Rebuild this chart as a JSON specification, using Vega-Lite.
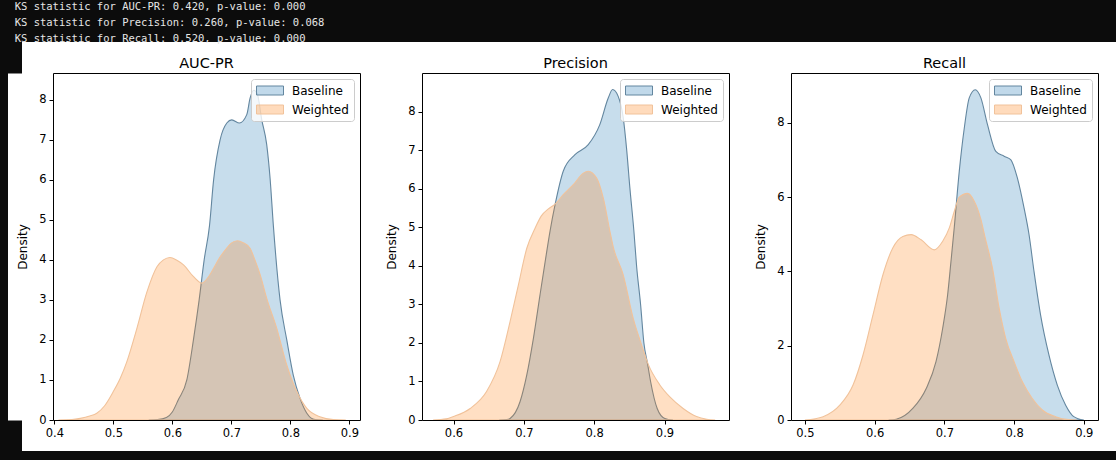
{
  "$schema": "https://vega.github.io/schema/vega-lite/v6.json",
  "background": "#0c0c0c",
  "padding": {"left": -15, "top": 2, "right": 0, "bottom": 0},
  "title": {
    "text": ["KS statistic for AUC-PR: 0.420, p-value: 0.000", "KS statistic for Precision: 0.260, p-value: 0.068", "KS statistic for Recall: 0.520, p-value: 0.000"],
    "anchor": "start", "frame": "bounds", "font": "DejaVu Sans Mono", "fontSize": 10.5, "fontWeight": "normal",
    "color": "#e6e6e6", "lineHeight": 16, "offset": -20, "dx": 29, "zindex": 2
  },
  "datasets": {
    "aucpr": [
      {"model": "Baseline", "x": 0.56, "density": 0},
      {"model": "Baseline", "x": 0.575, "density": 0.01},
      {"model": "Baseline", "x": 0.59, "density": 0.06},
      {"model": "Baseline", "x": 0.60, "density": 0.2},
      {"model": "Baseline", "x": 0.61, "density": 0.5},
      {"model": "Baseline", "x": 0.6246, "density": 1.0},
      {"model": "Baseline", "x": 0.6358, "density": 2.0},
      {"model": "Baseline", "x": 0.6455, "density": 3.0},
      {"model": "Baseline", "x": 0.654, "density": 4.0},
      {"model": "Baseline", "x": 0.663, "density": 4.85},
      {"model": "Baseline", "x": 0.67, "density": 6.0},
      {"model": "Baseline", "x": 0.681, "density": 7.0},
      {"model": "Baseline", "x": 0.6924, "density": 7.42},
      {"model": "Baseline", "x": 0.7008, "density": 7.5},
      {"model": "Baseline", "x": 0.7137, "density": 7.42},
      {"model": "Baseline", "x": 0.7262, "density": 7.63},
      {"model": "Baseline", "x": 0.7318, "density": 8.04},
      {"model": "Baseline", "x": 0.738, "density": 8.24},
      {"model": "Baseline", "x": 0.744, "density": 8.15},
      {"model": "Baseline", "x": 0.7516, "density": 7.5},
      {"model": "Baseline", "x": 0.76, "density": 6.88},
      {"model": "Baseline", "x": 0.7657, "density": 6.04},
      {"model": "Baseline", "x": 0.7713, "density": 4.85},
      {"model": "Baseline", "x": 0.7826, "density": 3.0},
      {"model": "Baseline", "x": 0.794, "density": 2.0},
      {"model": "Baseline", "x": 0.805, "density": 1.12},
      {"model": "Baseline", "x": 0.8165, "density": 0.54},
      {"model": "Baseline", "x": 0.828, "density": 0.17},
      {"model": "Baseline", "x": 0.842, "density": 0.01},
      {"model": "Baseline", "x": 0.855, "density": 0},
      {"model": "Weighted", "x": 0.407, "density": 0},
      {"model": "Weighted", "x": 0.43, "density": 0.01},
      {"model": "Weighted", "x": 0.444, "density": 0.04},
      {"model": "Weighted", "x": 0.46, "density": 0.1},
      {"model": "Weighted", "x": 0.472, "density": 0.17},
      {"model": "Weighted", "x": 0.485, "density": 0.35},
      {"model": "Weighted", "x": 0.50, "density": 0.71},
      {"model": "Weighted", "x": 0.512, "density": 1.05},
      {"model": "Weighted", "x": 0.523, "density": 1.46},
      {"model": "Weighted", "x": 0.54, "density": 2.29},
      {"model": "Weighted", "x": 0.557, "density": 3.2},
      {"model": "Weighted", "x": 0.574, "density": 3.83},
      {"model": "Weighted", "x": 0.585, "density": 4.0},
      {"model": "Weighted", "x": 0.596, "density": 4.06},
      {"model": "Weighted", "x": 0.607, "density": 4.0},
      {"model": "Weighted", "x": 0.619, "density": 3.875},
      {"model": "Weighted", "x": 0.636, "density": 3.58},
      {"model": "Weighted", "x": 0.65, "density": 3.42},
      {"model": "Weighted", "x": 0.66, "density": 3.55},
      {"model": "Weighted", "x": 0.67, "density": 3.79},
      {"model": "Weighted", "x": 0.68, "density": 4.05},
      {"model": "Weighted", "x": 0.692, "density": 4.29},
      {"model": "Weighted", "x": 0.70, "density": 4.42},
      {"model": "Weighted", "x": 0.7105, "density": 4.48},
      {"model": "Weighted", "x": 0.72, "density": 4.43},
      {"model": "Weighted", "x": 0.7318, "density": 4.29},
      {"model": "Weighted", "x": 0.74, "density": 4.0},
      {"model": "Weighted", "x": 0.749, "density": 3.625},
      {"model": "Weighted", "x": 0.76, "density": 3.04},
      {"model": "Weighted", "x": 0.777, "density": 2.29},
      {"model": "Weighted", "x": 0.794, "density": 1.375},
      {"model": "Weighted", "x": 0.811, "density": 0.71},
      {"model": "Weighted", "x": 0.828, "density": 0.29},
      {"model": "Weighted", "x": 0.85, "density": 0.08},
      {"model": "Weighted", "x": 0.873, "density": 0.01},
      {"model": "Weighted", "x": 0.894, "density": 0}
    ],
    "precision": [
      {"model": "Baseline", "x": 0.665, "density": 0},
      {"model": "Baseline", "x": 0.6758, "density": 0.01},
      {"model": "Baseline", "x": 0.6805, "density": 0.04},
      {"model": "Baseline", "x": 0.6947, "density": 0.48},
      {"model": "Baseline", "x": 0.7042, "density": 1.17},
      {"model": "Baseline", "x": 0.7136, "density": 2.12},
      {"model": "Baseline", "x": 0.723, "density": 3.25},
      {"model": "Baseline", "x": 0.7302, "density": 4.1},
      {"model": "Baseline", "x": 0.7372, "density": 4.9},
      {"model": "Baseline", "x": 0.7444, "density": 5.59},
      {"model": "Baseline", "x": 0.756, "density": 6.46},
      {"model": "Baseline", "x": 0.7727, "density": 6.89},
      {"model": "Baseline", "x": 0.7916, "density": 7.15},
      {"model": "Baseline", "x": 0.808, "density": 7.67},
      {"model": "Baseline", "x": 0.82, "density": 8.36},
      {"model": "Baseline", "x": 0.8262, "density": 8.58},
      {"model": "Baseline", "x": 0.834, "density": 8.41},
      {"model": "Baseline", "x": 0.8413, "density": 7.85},
      {"model": "Baseline", "x": 0.846, "density": 7.06},
      {"model": "Baseline", "x": 0.8508, "density": 6.02},
      {"model": "Baseline", "x": 0.8565, "density": 4.9},
      {"model": "Baseline", "x": 0.8603, "density": 4.0},
      {"model": "Baseline", "x": 0.866, "density": 3.0},
      {"model": "Baseline", "x": 0.8707, "density": 2.0},
      {"model": "Baseline", "x": 0.876, "density": 1.45},
      {"model": "Baseline", "x": 0.8802, "density": 1.0},
      {"model": "Baseline", "x": 0.8896, "density": 0.3},
      {"model": "Baseline", "x": 0.9005, "density": 0.04},
      {"model": "Baseline", "x": 0.912, "density": 0},
      {"model": "Weighted", "x": 0.571, "density": 0},
      {"model": "Weighted", "x": 0.59, "density": 0.03},
      {"model": "Weighted", "x": 0.60, "density": 0.09},
      {"model": "Weighted", "x": 0.6237, "density": 0.3},
      {"model": "Weighted", "x": 0.647, "density": 0.74},
      {"model": "Weighted", "x": 0.6663, "density": 1.52},
      {"model": "Weighted", "x": 0.6805, "density": 2.56},
      {"model": "Weighted", "x": 0.6923, "density": 3.51},
      {"model": "Weighted", "x": 0.7042, "density": 4.46},
      {"model": "Weighted", "x": 0.716, "density": 4.98},
      {"model": "Weighted", "x": 0.7249, "density": 5.3},
      {"model": "Weighted", "x": 0.7349, "density": 5.48},
      {"model": "Weighted", "x": 0.744, "density": 5.6},
      {"model": "Weighted", "x": 0.756, "density": 5.85},
      {"model": "Weighted", "x": 0.7703, "density": 6.11},
      {"model": "Weighted", "x": 0.7845, "density": 6.41},
      {"model": "Weighted", "x": 0.7916, "density": 6.46},
      {"model": "Weighted", "x": 0.8035, "density": 6.28},
      {"model": "Weighted", "x": 0.813, "density": 5.76},
      {"model": "Weighted", "x": 0.8224, "density": 4.9},
      {"model": "Weighted", "x": 0.827, "density": 4.5},
      {"model": "Weighted", "x": 0.8413, "density": 3.77},
      {"model": "Weighted", "x": 0.8555, "density": 2.64},
      {"model": "Weighted", "x": 0.8674, "density": 1.95},
      {"model": "Weighted", "x": 0.8768, "density": 1.45},
      {"model": "Weighted", "x": 0.8934, "density": 0.91},
      {"model": "Weighted", "x": 0.9076, "density": 0.6},
      {"model": "Weighted", "x": 0.9265, "density": 0.3},
      {"model": "Weighted", "x": 0.9455, "density": 0.09},
      {"model": "Weighted", "x": 0.96, "density": 0.02},
      {"model": "Weighted", "x": 0.972, "density": 0}
    ],
    "recall": [
      {"model": "Baseline", "x": 0.62, "density": 0},
      {"model": "Baseline", "x": 0.631, "density": 0.02},
      {"model": "Baseline", "x": 0.6547, "density": 0.31},
      {"model": "Baseline", "x": 0.674, "density": 0.85},
      {"model": "Baseline", "x": 0.688, "density": 1.57},
      {"model": "Baseline", "x": 0.6976, "density": 2.47},
      {"model": "Baseline", "x": 0.7047, "density": 3.37},
      {"model": "Baseline", "x": 0.7095, "density": 4.27},
      {"model": "Baseline", "x": 0.7143, "density": 5.2},
      {"model": "Baseline", "x": 0.7214, "density": 6.7},
      {"model": "Baseline", "x": 0.7286, "density": 7.86},
      {"model": "Baseline", "x": 0.7357, "density": 8.67},
      {"model": "Baseline", "x": 0.7443, "density": 8.89},
      {"model": "Baseline", "x": 0.7524, "density": 8.67},
      {"model": "Baseline", "x": 0.7619, "density": 7.95},
      {"model": "Baseline", "x": 0.7738, "density": 7.23},
      {"model": "Baseline", "x": 0.7857, "density": 7.1},
      {"model": "Baseline", "x": 0.7952, "density": 7.01},
      {"model": "Baseline", "x": 0.8048, "density": 6.51},
      {"model": "Baseline", "x": 0.8143, "density": 5.71},
      {"model": "Baseline", "x": 0.8214, "density": 5.0},
      {"model": "Baseline", "x": 0.8286, "density": 4.0},
      {"model": "Baseline", "x": 0.838, "density": 2.83},
      {"model": "Baseline", "x": 0.85, "density": 1.75},
      {"model": "Baseline", "x": 0.862, "density": 0.94},
      {"model": "Baseline", "x": 0.874, "density": 0.4},
      {"model": "Baseline", "x": 0.8857, "density": 0.09},
      {"model": "Baseline", "x": 0.9, "density": 0},
      {"model": "Weighted", "x": 0.50, "density": 0},
      {"model": "Weighted", "x": 0.526, "density": 0.09},
      {"model": "Weighted", "x": 0.55, "density": 0.4},
      {"model": "Weighted", "x": 0.569, "density": 0.94},
      {"model": "Weighted", "x": 0.5833, "density": 1.75},
      {"model": "Weighted", "x": 0.5976, "density": 2.83},
      {"model": "Weighted", "x": 0.6119, "density": 3.91},
      {"model": "Weighted", "x": 0.626, "density": 4.63},
      {"model": "Weighted", "x": 0.6404, "density": 4.94},
      {"model": "Weighted", "x": 0.6524, "density": 4.99},
      {"model": "Weighted", "x": 0.6667, "density": 4.85},
      {"model": "Weighted", "x": 0.6857, "density": 4.58},
      {"model": "Weighted", "x": 0.6976, "density": 4.81},
      {"model": "Weighted", "x": 0.7071, "density": 5.17},
      {"model": "Weighted", "x": 0.7143, "density": 5.62},
      {"model": "Weighted", "x": 0.7214, "density": 6.0},
      {"model": "Weighted", "x": 0.7333, "density": 6.1},
      {"model": "Weighted", "x": 0.7429, "density": 5.89},
      {"model": "Weighted", "x": 0.7524, "density": 5.4},
      {"model": "Weighted", "x": 0.7586, "density": 4.9},
      {"model": "Weighted", "x": 0.769, "density": 4.09},
      {"model": "Weighted", "x": 0.7786, "density": 3.01},
      {"model": "Weighted", "x": 0.788, "density": 2.2},
      {"model": "Weighted", "x": 0.80, "density": 1.57},
      {"model": "Weighted", "x": 0.8119, "density": 1.03},
      {"model": "Weighted", "x": 0.8262, "density": 0.58},
      {"model": "Weighted", "x": 0.8405, "density": 0.27},
      {"model": "Weighted", "x": 0.8595, "density": 0.09},
      {"model": "Weighted", "x": 0.8786, "density": 0.01},
      {"model": "Weighted", "x": 0.89, "density": 0}
    ]
  },
  "spacing": 62,
  "bounds": "flush",
  "resolve": {"scale": {"color": "independent", "stroke": "independent"}},
  "hconcat": [
    {
      "width": 307, "height": 347,
      "title": "AUC-PR",
      "data": {"name": "aucpr"},
      "view": {"fill": "white", "stroke": "white", "strokeWidth": 62},
      "layer": [
        {
          "mark": {"type": "area", "fillOpacity": 0.25, "strokeWidth": 1.1, "interpolate": "monotone", "clip": true},
          "encoding": {
            "x": {"field": "x", "type": "quantitative", "scale": {"domain": [0.3978, 0.9181], "nice": false, "zero": false},
                  "axis": {"values": [0.4, 0.5, 0.6, 0.7, 0.8, 0.9], "format": ".1f", "title": null, "zindex": 1}},
            "y": {"field": "density", "type": "quantitative", "stack": null, "scale": {"domain": [0, 8.67], "nice": false},
                  "axis": {"values": [0, 1, 2, 3, 4, 5, 6, 7, 8], "title": "Density", "zindex": 1}},
            "color": {"field": "model", "type": "nominal", "scale": {"domain": ["Baseline", "Weighted"], "range": ["#1f77b4", "#ff7f0e"]},
                      "legend": {"title": null, "encode": {"symbols": {"update": {"fillOpacity": {"value": 0.28}, "strokeOpacity": {"value": 1}}}}}},
            "stroke": {"field": "model", "type": "nominal", "scale": {"domain": ["Baseline", "Weighted"], "range": ["#63869f", "#f1c29a"]},
                       "legend": {"title": null}}
          }
        },
        {
          "mark": {"type": "line", "opacity": 0, "clip": true},
          "encoding": {
            "x": {"field": "x", "type": "quantitative",
                  "axis": {"orient": "top", "labels": false, "ticks": false, "title": null, "grid": true, "gridColor": "white", "gridWidth": 93, "gridCap": "butt",
                           "gridOpacity": {"condition": {"test": "datum.value < 0.45", "value": 1}, "value": 0},
                           "values": [0.4, 0.5, 0.6, 0.7, 0.8, 0.9]}},
            "y": {"field": "density", "type": "quantitative", "stack": null, "axis": {"orient": "right", "labels": false, "ticks": false, "title": null, "zindex": 1}},
            "detail": {"field": "model"}
          }
        }
      ],
      "resolve": {"axis": {"x": "independent", "y": "independent"}}
    },
    {
      "width": 307, "height": 347,
      "title": "Precision",
      "data": {"name": "precision"},
      "view": {"fill": "white", "stroke": "white", "strokeWidth": 62},
      "layer": [
        {
          "mark": {"type": "area", "fillOpacity": 0.25, "strokeWidth": 1.1, "interpolate": "monotone", "clip": true},
          "encoding": {
            "x": {"field": "x", "type": "quantitative", "scale": {"domain": [0.5552, 0.9917], "nice": false, "zero": false},
                  "axis": {"values": [0.6, 0.7, 0.8, 0.9], "format": ".1f", "title": null, "zindex": 1}},
            "y": {"field": "density", "type": "quantitative", "stack": null, "scale": {"domain": [0, 9.01], "nice": false},
                  "axis": {"values": [0, 1, 2, 3, 4, 5, 6, 7, 8], "title": "Density", "zindex": 1}},
            "color": {"field": "model", "type": "nominal", "scale": {"domain": ["Baseline", "Weighted"], "range": ["#1f77b4", "#ff7f0e"]},
                      "legend": {"title": null, "encode": {"symbols": {"update": {"fillOpacity": {"value": 0.28}, "strokeOpacity": {"value": 1}}}}}},
            "stroke": {"field": "model", "type": "nominal", "scale": {"domain": ["Baseline", "Weighted"], "range": ["#63869f", "#f1c29a"]},
                       "legend": {"title": null}}
          }
        },
        {
          "mark": {"type": "line", "opacity": 0, "clip": true},
          "encoding": {
            "x": {"field": "x", "type": "quantitative", "axis": {"orient": "top", "labels": false, "ticks": false, "title": null}},
            "y": {"field": "density", "type": "quantitative", "stack": null, "axis": {"orient": "right", "labels": false, "ticks": false, "title": null, "zindex": 1}},
            "detail": {"field": "model"}
          }
        }
      ],
      "resolve": {"axis": {"x": "independent", "y": "independent"}}
    },
    {
      "width": 307, "height": 347,
      "title": "Recall",
      "data": {"name": "recall"},
      "view": {"fill": "white", "stroke": "white", "strokeWidth": 62},
      "layer": [
        {
          "mark": {"type": "area", "fillOpacity": 0.25, "strokeWidth": 1.1, "interpolate": "monotone", "clip": true},
          "encoding": {
            "x": {"field": "x", "type": "quantitative", "scale": {"domain": [0.48, 0.9204], "nice": false, "zero": false},
                  "axis": {"values": [0.5, 0.6, 0.7, 0.8, 0.9], "format": ".1f", "title": null, "zindex": 1}},
            "y": {"field": "density", "type": "quantitative", "stack": null, "scale": {"domain": [0, 9.34], "nice": false},
                  "axis": {"values": [0, 2, 4, 6, 8], "title": "Density", "zindex": 1}},
            "color": {"field": "model", "type": "nominal", "scale": {"domain": ["Baseline", "Weighted"], "range": ["#1f77b4", "#ff7f0e"]},
                      "legend": {"title": null, "encode": {"symbols": {"update": {"fillOpacity": {"value": 0.28}, "strokeOpacity": {"value": 1}}}}}},
            "stroke": {"field": "model", "type": "nominal", "scale": {"domain": ["Baseline", "Weighted"], "range": ["#63869f", "#f1c29a"]},
                       "legend": {"title": null}}
          }
        },
        {
          "mark": {"type": "line", "opacity": 0, "clip": true},
          "encoding": {
            "x": {"field": "x", "type": "quantitative", "axis": {"orient": "top", "labels": false, "ticks": false, "title": null}},
            "y": {"field": "density", "type": "quantitative", "stack": null, "axis": {"orient": "right", "labels": false, "ticks": false, "title": null, "zindex": 1}},
            "detail": {"field": "model"}
          }
        }
      ],
      "resolve": {"axis": {"x": "independent", "y": "independent"}}
    }
  ],
  "config": {
    "font": "DejaVu Sans",
    "view": {"stroke": null},
    "axis": {
      "domainColor": "black", "domainWidth": 1, "tickColor": "black", "tickWidth": 1, "tickSize": 4,
      "labelColor": "black", "labelFont": "DejaVu Sans", "labelFontSize": 11.5, "labelPadding": 3,
      "titleColor": "black", "titleFont": "DejaVu Sans", "titleFontSize": 12, "titleFontWeight": "normal", "titlePadding": 9,
      "grid": false
    },
    "title": {"font": "DejaVu Sans", "fontSize": 14.5, "fontWeight": "normal", "color": "black", "offset": 2},
    "legend": {
      "orient": "top-right", "offset": 6, "padding": 5,
      "fillColor": "rgba(255,255,255,0.8)", "strokeColor": "#cccccc", "cornerRadius": 3,
      "labelFont": "DejaVu Sans", "labelFontSize": 12, "labelColor": "black",
      "symbolType": "M-1,-0.75L3.5,-0.75L3.5,0.75L-1,0.75Z", "symbolSize": 144, "symbolStrokeWidth": 1,
      "labelOffset": 23, "rowPadding": 6
    }
  }
}
